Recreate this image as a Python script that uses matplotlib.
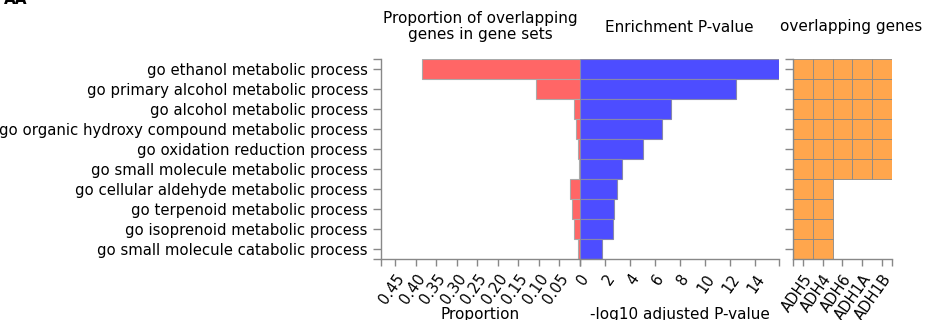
import numpy as np
from matplotlib import pyplot as plt

gene_sets = ['go ethanol metabolic process',
             'go primary alcohol metabolic process',
             'go alcohol metabolic process',
             'go organic hydroxy compound metabolic process',
             'go oxidation reduction process',
             'go small molecule metabolic process',
             'go cellular aldehyde metabolic process',
             'go terpenoid metabolic process',
             'go isoprenoid metabolic process',
             'go small molecule catabolic process']
proportion = [0.385, 0.108, 0.014, 0.009, 0.005, 0.0024, 0.024, 0.019, 0.0155, 0.0057]
neg_log_p = [15.94, 12.48, 7.28, 6.56, 5.07, 3.33, 2.99, 2.72, 2.61, 1.73]
genes = ['ADH5', 'ADH4', 'ADH6', 'ADH1A', 'ADH1B']
n_genes_hit = [5, 5, 5, 5, 5, 5, 2, 2, 2, 2]

prop_max = 0.485
p_max = 15.94

RED = '#ff6666'
BLUE = '#4d4dff'
ORANGE = '#ffa64d'
GRAY = '#888888'
FS = 10.7
TFS = 11

plt.rcParams['font.family'] = 'DejaVu Sans'
plt.rcParams['font.size'] = FS

fig = plt.figure(figsize=(9.29, 3.2), dpi=100)
W, H = 929.0, 320.0

def add_ax(x0, x1, y0=59, y1=259):
    return fig.add_axes([x0 / W, (H - y1) / H, (x1 - x0) / W, (y1 - y0) / H])

def px_text(x, y, s, **kw):
    kw.setdefault('fontsize', TFS)
    fig.text(x / W, 1 - y / H, s, ha='center', va='center', **kw)

ax1 = add_ax(381, 580)
ax2 = add_ax(580, 779.3)
ax3 = add_ax(792.7, 892.3)

y = np.arange(len(gene_sets))
nrow = len(gene_sets)

def style(ax, left=True):
    for s in ['top', 'right']:
        ax.spines[s].set_visible(False)
    ax.spines['left'].set_visible(left)
    for s in ['left', 'bottom']:
        ax.spines[s].set_color(GRAY)
        ax.spines[s].set_linewidth(1.0)
    ax.tick_params(color=GRAY, length=6, width=1.0, labelsize=FS)
    ax.tick_params(axis='x', length=5, pad=4, labelsize=10.6)
    ax.set_ylim(nrow - 0.5, -0.5)

def rot_labels(ax, labels):
    ax.set_xticklabels(labels, rotation=55, ha='right', va='top',
                       rotation_mode='anchor')

# proportion panel (reversed x)
ax1.barh(y, proportion, height=1.0, color=RED, edgecolor='#aaaaaa', linewidth=0.8)
ax1.set_xlim(prop_max, 0)
style(ax1)
pt = [0.05, 0.10, 0.15, 0.20, 0.25, 0.30, 0.35, 0.40, 0.45]
ax1.set_xticks([0] + pt + [prop_max])
rot_labels(ax1, [''] + ['%.2f' % v for v in pt] + [''])
ax1.set_yticks(list(y) + [-0.5, nrow - 0.5])
ax1.set_yticklabels(gene_sets + ['', ''])
px_text(480.5, 18, 'Proportion of overlapping')
px_text(480.5, 35, 'genes in gene sets')
px_text(480.5, 315, 'Proportion')

# enrichment panel
ax2.barh(y, neg_log_p, height=1.0, color=BLUE, edgecolor='#8888aa', linewidth=0.8)
ax2.set_xlim(0, p_max)
style(ax2, left=False)
ax2.set_yticks([])
ax2.set_xticks(list(range(0, 16, 2)) + [p_max])
rot_labels(ax2, [str(v) for v in range(0, 16, 2)] + [''])
px_text(679.6, 315, '-log10 adjusted P-value')
px_text(679.6, 27, 'Enrichment P-value')

# overlapping genes grid
for i, n in enumerate(n_genes_hit):
    ax3.barh(np.full(n, i), np.ones(n), left=np.arange(n) - 0.5, height=1.0,
             color=ORANGE, edgecolor=GRAY, linewidth=0.6)
ax3.set_xlim(-0.5, len(genes) - 0.5)
style(ax3)
ax3.set_xticks(list(range(len(genes))) + [-0.5, len(genes) - 0.5])
rot_labels(ax3, genes + ['', ''])
ax3.set_yticks(list(y) + [-0.5])
ax3.set_yticklabels([''] * (nrow + 1))
px_text(851, 27, 'overlapping genes')

fig.text(4 / W, 1 + 1 / H, 'AA', ha='left', va='center', fontsize=TFS, fontweight='bold')

fig.savefig('out.png', dpi=100)
